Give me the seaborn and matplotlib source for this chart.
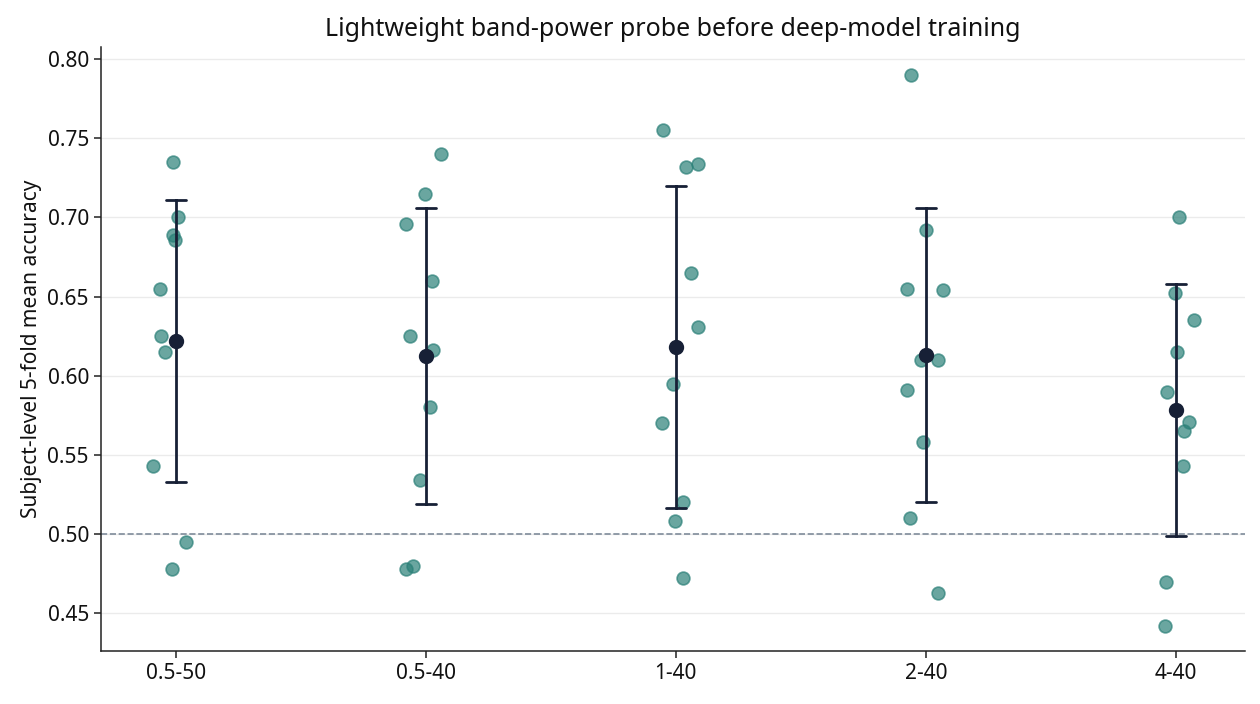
import pandas as pd
import numpy as np
import matplotlib
matplotlib.use("Agg")
import matplotlib.pyplot as plt
import seaborn as sns

# band ranges (Hz) used for the probe
bands = ["0.5-50", "0.5-40", "1-40", "2-40", "4-40"]

# subject-level accuracies per band
acc_05_50 = [0.735, 0.700, 0.689, 0.686, 0.655, 0.625, 0.615, 0.543, 0.495, 0.478]
acc_05_40 = [0.740, 0.715, 0.696, 0.660, 0.625, 0.616, 0.580, 0.534, 0.480, 0.478]
acc_1_40 = [0.755, 0.732, 0.734, 0.665, 0.631, 0.595, 0.570, 0.520, 0.508, 0.472]
acc_2_40 = [0.790, 0.692, 0.655, 0.654, 0.610, 0.610, 0.591, 0.558, 0.510, 0.463]
acc_4_40 = [0.700, 0.652, 0.635, 0.615, 0.590, 0.571, 0.565, 0.543, 0.470, 0.442]

# horizontal jitter of each point, same order as above
jit_05_50 = [-0.011, 0.009, -0.011, -0.003, -0.063, -0.059, -0.043, -0.091, 0.041, -0.015]
jit_05_40 = [0.060, -0.003, -0.079, 0.025, -0.063, 0.027, 0.016, -0.024, -0.051, -0.079]
jit_1_40 = [-0.052, 0.041, 0.089, 0.060, 0.089, -0.011, -0.055, 0.029, -0.003, 0.029]
jit_2_40 = [-0.059, 0.000, -0.075, 0.069, -0.020, 0.049, -0.075, -0.013, -0.063, 0.049]
jit_4_40 = [0.013, -0.004, 0.073, 0.005, -0.035, 0.053, 0.033, 0.029, -0.039, -0.043]

chance = 0.5

all_acc = [acc_05_50, acc_05_40, acc_1_40, acc_2_40, acc_4_40]
all_jit = [jit_05_50, jit_05_40, jit_1_40, jit_2_40, jit_4_40]

rows = []
for i, b in enumerate(bands):
    for a, j in zip(all_acc[i], all_jit[i]):
        rows.append({"band": b, "pos": i + j, "acc": a})
df = pd.DataFrame(rows)

sns.set_theme(style="whitegrid")
plt.rcParams["font.family"] = ["Noto Sans", "DejaVu Sans"]
plt.rcParams["grid.color"] = "#ebebeb"
plt.rcParams["grid.linewidth"] = 1.0
plt.rcParams["text.color"] = "#111111"
plt.rcParams["axes.labelcolor"] = "#111111"
plt.rcParams["xtick.color"] = "#111111"
plt.rcParams["ytick.color"] = "#111111"

fig = plt.figure(figsize=(12.6, 7.04), dpi=100)
ax = fig.add_axes([0.080, 0.075, 0.908, 0.858])

sns.scatterplot(data=df, x="pos", y="acc", ax=ax, s=85, color="#2b8078",
                alpha=0.7, edgecolor="#2b8078", linewidth=1.2, zorder=3)

sns.pointplot(data=df, x="band", y="acc", order=bands, ax=ax,
              errorbar="sd", capsize=0.08, linestyle="none",
              color="#172036", markersize=9,
              err_kws={"linewidth": 2.0}, zorder=5)

ax.axhline(chance, color="#7f8c9a", linestyle="--", linewidth=1.2, zorder=2)

yt = [0.45, 0.50, 0.55, 0.60, 0.65, 0.70, 0.75, 0.80]
ax.set_xticks(range(len(bands)))
ax.set_xticklabels(bands)
ax.set_xlim(-0.3, 4.276)
ax.set_ylim(0.426, 0.8076)
ax.set_yticks(yt)
ax.set_yticklabels([f"{v:.2f}" for v in yt])

ax.set_xlabel("")
ax.set_ylabel("Subject-level 5-fold mean accuracy", fontsize=15)
ax.set_title("Lightweight band-power probe before deep-model training", fontsize=18, pad=8)
ax.tick_params(axis="both", labelsize=15, length=5, width=1.1, color="#222222",
               left=True, bottom=True)
ax.set_facecolor("white")
sns.despine(ax=ax)
for s in ["left", "bottom"]:
    ax.spines[s].set_color("#222222")
    ax.spines[s].set_linewidth(1.1)

fig.savefig("out.png", dpi=100)
